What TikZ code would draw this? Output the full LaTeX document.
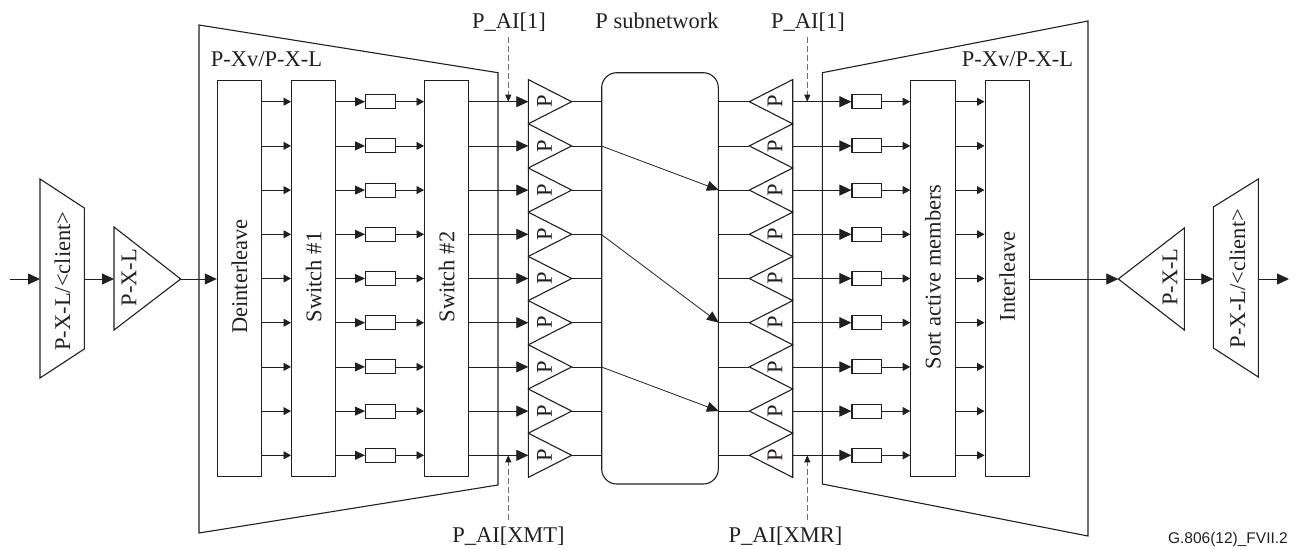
\documentclass[tikz,border=0pt]{standalone}
\usepackage{fontspec}
\setmainfont{Liberation Serif}
\newfontfamily\arialfont{Liberation Sans}
\usetikzlibrary{arrows.meta}
\definecolor{ink}{RGB}{35,31,32}
\definecolor{dashgray}{RGB}{110,110,110}
\begin{document}
\begin{tikzpicture}[x=1pt,y=-1pt,
  shapeline/.style={line width=1.1pt, draw=ink, line join=miter},
  conn/.style={line width=0.8pt, draw=ink},
  bigarrow/.style={conn, -{Triangle[length=12pt,width=11pt]}},
  diagarrow/.style={conn, -{Triangle[length=12pt,width=10pt]}},
  midarrow/.style={conn, -{Triangle[length=10pt,width=9pt]}},
  smallarrow/.style={conn, -{Triangle[length=7.5pt,width=8pt]}},
  dasharrow/.style={line width=0.8pt, draw=dashgray, dash pattern=on 6pt off 3pt, -{Triangle[length=7pt,width=6pt,color=ink]}},
  lbl/.style={font=\fontsize{22.5}{27}\selectfont, text=ink, inner sep=0pt},
  vlbl/.style={lbl, rotate=90},
  bar/.style={shapeline, rectangle, minimum width=44.3pt, minimum height=396pt, inner sep=0pt},
  smallbox/.style={shapeline, rectangle, minimum width=29.5pt, minimum height=14pt, inner sep=0pt},
]
\useasboundingbox (0,0) rectangle (1299,549);

% big trapezoids
\draw[shapeline] (199,25) -- (498,72.7) -- (498,485) -- (199,533) -- cycle;
\draw[shapeline] (822.3,72.7) -- (1088,21) -- (1088,536) -- (822.3,484) -- cycle;
\node[lbl, anchor=base west] (lxv) at (210.7,66) {P-Xv/P-X-L};
\node[lbl, anchor=base west] (rxv) at (961.7,66) {P-Xv/P-X-L};

% bars
\node[bar] (dein) at (239.5,278.7) {};
\node[bar] (sw1) at (313.7,278.7) {};
\node[bar] (sw2) at (446.7,278.7) {};
\node[bar] (sort) at (932.9,278.7) {};
\node[bar] (inter) at (1007.2,278.7) {};
\node[vlbl] (deint) at (239.5,276.5) {Deinterleave};
\node[vlbl] (sw1t) at (313.7,277) {Switch \#1};
\node[vlbl] (sw2t) at (446.7,277) {Switch \#2};
\node[vlbl] (sortt) at (932.9,277) {Sort active members};
\node[vlbl] (intert) at (1007.2,276.5) {Interleave};

% P subnetwork
\node[shapeline, rectangle, rounded corners=15pt, minimum width=116.6pt, minimum height=411.3pt, inner sep=0pt] (sub) at (660,278.35) {};
\node[lbl, anchor=base] (subt) at (657,28.3) {P subnetwork};

% rows
\foreach \i in {1,...,9}{
  \pgfmathsetmacro\yy{101.7+44.2*(\i-1)}
  \coordinate (r\i) at (0,\yy);
  \node[smallbox] (lb\i) at (380.3,\yy) {};
  \node[smallbox] (rb\i) at (866.7,\yy) {};
  \coordinate (lpb\i) at (528.3,\yy);
  \coordinate (lpt\i) at (571.7,\yy);
  \coordinate (rpt\i) at (749.3,\yy);
  \coordinate (rpb\i) at (792.7,\yy);
  \draw[shapeline] (528.3,{\yy-22.1}) -- (lpt\i) -- (528.3,{\yy+22.1}) -- cycle;
  \draw[shapeline] (792.7,{\yy-22.1}) -- (rpt\i) -- (792.7,{\yy+22.1}) -- cycle;
  \node[vlbl] (lp\i) at (544.5,\yy) {P};
  \node[vlbl] (rp\i) at (775,\yy) {P};
  \draw[smallarrow] (dein.east |- r\i) -- (sw1.west |- r\i);
  \draw[midarrow] (sw1.east |- r\i) -- (lb\i.west);
  \draw[smallarrow] (lb\i.east) -- (sw2.west |- r\i);
  \draw[bigarrow] (sw2.east |- r\i) -- (lpb\i);
  \draw[conn] (lpt\i) -- (sub.west |- r\i);
  \draw[conn] (sub.east |- r\i) -- (rpt\i);
  \draw[bigarrow] (rpb\i) -- (rb\i.west);
  \draw[smallarrow] (rb\i.east) -- (sort.west |- r\i);
  \draw[smallarrow] (sort.east |- r\i) -- (inter.west |- r\i);
}

% diagonal connections in subnetwork
\draw[diagarrow] (sub.west |- r2) -- (sub.east |- r3);
\draw[diagarrow] (sub.west |- r4) -- (sub.east |- r6);
\draw[diagarrow] (sub.west |- r7) -- (sub.east |- r8);

% left chain
\coordinate (in) at (10,279);
\coordinate (ltzw) at (40,279);
\coordinate (ltze) at (84.3,279);
\draw[shapeline] (40,179) -- (84.3,208) -- (84.3,349) -- (40,378) -- cycle;
\node[vlbl] (ltzt) at (62.5,281) {P-X-L/<client>};
\coordinate (ltrb) at (114,279);
\coordinate (ltrt) at (180.7,279);
\draw[shapeline] (114,227) -- (ltrt) -- (114,330) -- cycle;
\node[vlbl] (ltrtx) at (129,277.5) {P-X-L};
\draw[bigarrow] (in) -- (ltzw);
\draw[bigarrow] (ltze) -- (ltrb);
\draw[bigarrow] (ltrt) -- (dein.west |- ltrt);

% right chain
\coordinate (rtrt) at (1118.3,279);
\coordinate (rtrb) at (1184.3,279);
\draw[shapeline] (rtrt) -- (1184.3,228) -- (1184.3,330) -- cycle;
\node[vlbl] (rtrtx) at (1170,277) {P-X-L};
\coordinate (rtzw) at (1213.3,279);
\coordinate (rtze) at (1258.3,279);
\coordinate (out) at (1289,279);
\draw[shapeline] (1213.3,207) -- (1258.3,179) -- (1258.3,377) -- (1213.3,348) -- cycle;
\node[vlbl] (rtzt) at (1237.5,278.5) {P-X-L/<client>};
\draw[bigarrow] (inter.east |- rtrt) -- (rtrt);
\draw[bigarrow] (rtrb) -- (rtzw);
\draw[bigarrow] (rtze) -- (out);

% P_AI labels and dashed arrows
\node[lbl, anchor=base] (pait1) at (509,28.3) {P\_AI[1]};
\node[lbl, anchor=base] (pait2) at (808,28.3) {P\_AI[1]};
\node[lbl, anchor=base] (paixmt) at (508.5,542.5) {P\_AI[XMT]};
\node[lbl, anchor=base] (paixmr) at (785.5,542.5) {P\_AI[XMR]};
\coordinate (d1s) at (508.3,36.7);
\coordinate (d1e) at (508.3,101.7);
\coordinate (d2s) at (807.3,36.7);
\coordinate (d2e) at (807.3,101.7);
\coordinate (d3s) at (508.3,520);
\coordinate (d3e) at (508.3,455.3);
\coordinate (d4s) at (807.3,520);
\coordinate (d4e) at (807.3,455.3);
\draw[dasharrow] (d1s) -- (d1e);
\draw[dasharrow] (d2s) -- (d2e);
\draw[dasharrow] (d3s) -- (d3e);
\draw[dasharrow] (d4s) -- (d4e);

\node[font=\arialfont\fontsize{15.5}{18}\selectfont, text=ink, inner sep=0pt, anchor=base east] (fig) at (1288,543) {G.806(12)\_FVII.2};
\end{tikzpicture}
\end{document}
